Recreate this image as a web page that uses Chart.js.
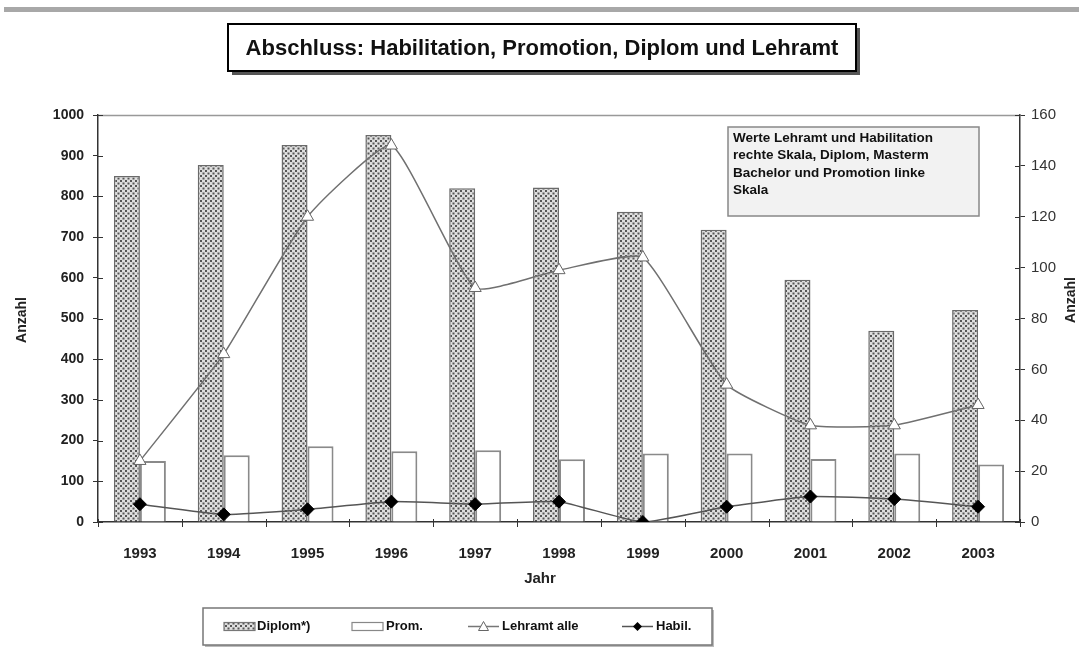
<!DOCTYPE html>
<html lang="de">
<head>
<meta charset="utf-8">
<title>Abschluss: Habilitation, Promotion, Diplom und Lehramt</title>
<script src="https://cdn.jsdelivr.net/npm/chart.js@4.4.1/dist/chart.umd.min.js"></script>
<style>
  html, body { margin: 0; padding: 0; background: #fff; }
  #wrap { width: 1079px; height: 662px; }
</style>
</head>
<body>
<div id="wrap"><canvas id="chart" width="1079" height="662"></canvas></div>
<script>
// Jahre und Abschlusszahlen
const years = ['1993', '1994', '1995', '1996', '1997', '1998', '1999', '2000', '2001', '2002', '2003'];
const diplom = [850, 877, 926, 951, 820, 822, 762, 718, 595, 470, 521];
const promotion = [150, 164, 186, 174, 176, 154, 168, 168, 155, 168, 141];
const lehramt = [24, 66, 120, 148, 92, 99, 104, 54, 38, 38, 46];
const habil = [7, 3, 5, 8, 7, 8, 0, 6, 10, 9, 6];

// Achsenbereiche (links: Diplom/Promotion, rechts: Lehramt/Habilitation)
const leftTicks = { min: 0, max: 1000, step: 100 };
const rightTicks = { min: 0, max: 160, step: 20 };

const FONT = "'Liberation Sans', Arial, sans-serif";

// Punktraster für die Diplom-Balken
function dotPattern() {
  const c = document.createElement('canvas');
  c.width = 5; c.height = 5;
  const g = c.getContext('2d');
  g.fillStyle = '#dedede';
  g.fillRect(0, 0, 5, 5);
  g.fillStyle = '#555';
  g.fillRect(0, 0, 2, 2);
  g.fillRect(2.5, 2.5, 2, 2);
  return g.createPattern(c, 'repeat');
}
const pattern = dotPattern();

// Rahmen, Titel, Hinweisbox, Legende und Achsentitel
const decorations = {
  id: 'decorations',
  afterDraw(chart) {
    const ctx = chart.ctx;
    const a = chart.chartArea;
    ctx.save();

    // graue Linie am oberen Rand
    ctx.fillStyle = '#a8a8a8';
    ctx.fillRect(4, 7, 1075, 5);

    // obere Begrenzung der Zeichenfläche
    ctx.strokeStyle = '#999';
    ctx.lineWidth = 1.5;
    ctx.beginPath();
    ctx.moveTo(a.left, a.top + 0.5);
    ctx.lineTo(a.right, a.top + 0.5);
    ctx.stroke();

    // Teilstriche innerhalb der Achsen und unter der x-Achse
    ctx.strokeStyle = '#333';
    ctx.lineWidth = 1;
    const ys = chart.scales.y, y1 = chart.scales.y1, xs = chart.scales.x;
    for (let v = leftTicks.min; v <= leftTicks.max; v += leftTicks.step) {
      const p = Math.round(ys.getPixelForValue(v)) + 0.5;
      ctx.beginPath(); ctx.moveTo(a.left, p); ctx.lineTo(a.left + 5, p); ctx.stroke();
    }
    for (let v = rightTicks.min; v <= rightTicks.max; v += rightTicks.step) {
      const p = Math.round(y1.getPixelForValue(v)) + 0.5;
      ctx.beginPath(); ctx.moveTo(a.right - 5, p); ctx.lineTo(a.right, p); ctx.stroke();
    }
    const half = (xs.getPixelForValue(1) - xs.getPixelForValue(0)) / 2;
    for (let i = 0; i <= years.length; i++) {
      const p = Math.round(xs.getPixelForValue(i) - half) + 0.5;
      ctx.beginPath(); ctx.moveTo(p, a.bottom - 3); ctx.lineTo(p, a.bottom + 5); ctx.stroke();
    }

    // Titelbox mit Schatten
    const tb = { x: 228, y: 24, w: 628, h: 47 };
    ctx.fillStyle = '#555';
    ctx.fillRect(tb.x + 4, tb.y + 4, tb.w, tb.h);
    ctx.fillStyle = '#fff';
    ctx.fillRect(tb.x, tb.y, tb.w, tb.h);
    ctx.strokeStyle = '#000';
    ctx.lineWidth = 2;
    ctx.strokeRect(tb.x, tb.y, tb.w, tb.h);
    ctx.fillStyle = '#111';
    ctx.font = 'bold 22px ' + FONT;
    ctx.textAlign = 'center';
    ctx.textBaseline = 'middle';
    ctx.fillText('Abschluss: Habilitation, Promotion, Diplom und Lehramt', tb.x + tb.w / 2, tb.y + tb.h / 2 + 1, tb.w - 14);

    // Hinweisbox zu den Skalen
    const nb = { x: 728, y: 127, w: 251, h: 89 };
    ctx.fillStyle = '#f2f2f2';
    ctx.fillRect(nb.x, nb.y, nb.w, nb.h);
    ctx.strokeStyle = '#888';
    ctx.lineWidth = 1.5;
    ctx.strokeRect(nb.x, nb.y, nb.w, nb.h);
    ctx.fillStyle = '#111';
    ctx.font = 'bold 13.5px ' + FONT;
    ctx.textAlign = 'left';
    ctx.textBaseline = 'middle';
    const note = ['Werte Lehramt und Habilitation', 'rechte Skala, Diplom, Masterm', 'Bachelor und Promotion linke', 'Skala'];
    note.forEach((t, i) => ctx.fillText(t, nb.x + 5, nb.y + 11 + i * 17.5, nb.w - 10));

    // Achsentitel
    ctx.font = 'bold 14px ' + FONT;
    ctx.fillStyle = '#222';
    ctx.textAlign = 'center';
    ctx.save();
    ctx.translate(22, 320);
    ctx.rotate(-Math.PI / 2);
    ctx.fillText('Anzahl', 0, 0);
    ctx.restore();
    ctx.save();
    ctx.translate(1071, 300);
    ctx.rotate(-Math.PI / 2);
    ctx.fillText('Anzahl', 0, 0);
    ctx.restore();
    ctx.font = 'bold 15px ' + FONT;
    ctx.fillText('Jahr', 540, 579);

    // Legende
    const lb = { x: 203, y: 608, w: 509, h: 37 };
    ctx.fillStyle = '#bbb';
    ctx.fillRect(lb.x + 2, lb.y + 2, lb.w, lb.h);
    ctx.fillStyle = '#fff';
    ctx.fillRect(lb.x, lb.y, lb.w, lb.h);
    ctx.strokeStyle = '#777';
    ctx.lineWidth = 1.5;
    ctx.strokeRect(lb.x, lb.y, lb.w, lb.h);
    const cy = lb.y + lb.h / 2;
    ctx.font = 'bold 13px ' + FONT;
    ctx.textAlign = 'left';
    ctx.textBaseline = 'middle';

    // Diplom
    ctx.fillStyle = pattern;
    ctx.fillRect(224, cy - 4, 31, 8);
    ctx.strokeStyle = '#777';
    ctx.lineWidth = 1.2;
    ctx.strokeRect(224, cy - 4, 31, 8);
    ctx.fillStyle = '#111';
    ctx.fillText('Diplom*)', 257, cy);
    // Promotion
    ctx.fillStyle = '#fff';
    ctx.fillRect(352, cy - 4, 31, 8);
    ctx.strokeStyle = '#888';
    ctx.strokeRect(352, cy - 4, 31, 8);
    ctx.fillStyle = '#111';
    ctx.fillText('Prom.', 386, cy);
    // Lehramt
    ctx.strokeStyle = '#777';
    ctx.lineWidth = 1.5;
    ctx.beginPath(); ctx.moveTo(468, cy); ctx.lineTo(499, cy); ctx.stroke();
    ctx.beginPath();
    ctx.moveTo(483.5, cy - 5); ctx.lineTo(488.5, cy + 4); ctx.lineTo(478.5, cy + 4); ctx.closePath();
    ctx.fillStyle = '#fff'; ctx.fill();
    ctx.strokeStyle = '#666'; ctx.lineWidth = 1; ctx.stroke();
    ctx.fillStyle = '#111';
    ctx.fillText('Lehramt alle', 502, cy);
    // Habilitation
    ctx.strokeStyle = '#555';
    ctx.lineWidth = 1.5;
    ctx.beginPath(); ctx.moveTo(622, cy); ctx.lineTo(653, cy); ctx.stroke();
    ctx.beginPath();
    ctx.moveTo(637.5, cy - 4.5); ctx.lineTo(642, cy); ctx.lineTo(637.5, cy + 4.5); ctx.lineTo(633, cy); ctx.closePath();
    ctx.fillStyle = '#000'; ctx.fill();
    ctx.fillStyle = '#111';
    ctx.fillText('Habil.', 656, cy);

    ctx.restore();
  }
};

new Chart(document.getElementById('chart'), {
  data: {
    labels: years,
    datasets: [
      {
        type: 'line', label: 'Lehramt alle', data: lehramt, yAxisID: 'y1', order: 0,
        borderColor: '#707070', borderWidth: 1.5, tension: 0.15,
        pointStyle: 'triangle', pointRadius: 7, pointBackgroundColor: '#fff',
        pointBorderColor: '#666', pointBorderWidth: 1
      },
      {
        type: 'line', label: 'Habil.', data: habil, yAxisID: 'y1', order: 0,
        borderColor: '#555', borderWidth: 1.5, tension: 0.15,
        pointStyle: 'rectRot', pointRadius: 6.5, pointBackgroundColor: '#000',
        pointBorderColor: '#000', pointBorderWidth: 1
      },
      {
        type: 'bar', label: 'Diplom*)', data: diplom, yAxisID: 'y', order: 2,
        backgroundColor: pattern, borderColor: '#6a6a6a', borderWidth: 1.5,
        categoryPercentage: 0.62, barPercentage: 1
      },
      {
        type: 'bar', label: 'Prom.', data: promotion, yAxisID: 'y', order: 2,
        backgroundColor: '#fff', borderColor: '#8a8a8a', borderWidth: 2,
        categoryPercentage: 0.62, barPercentage: 1
      }
    ]
  },
  options: {
    responsive: false,
    animation: false,
    layout: { padding: { top: 115, left: 0, right: 0, bottom: 0 } },
    plugins: { legend: { display: false }, tooltip: { enabled: false }, title: { display: false } },
    scales: {
      x: {
        offset: true,
        grid: { display: false, drawOnChartArea: false },
        border: { display: true, color: '#333', width: 1.5 },
        ticks: { color: '#222', font: { family: FONT, size: 15, weight: 'bold' }, padding: 15, maxRotation: 0 },
        afterFit(s) { s.height = 140; }
      },
      y: {
        position: 'left', min: leftTicks.min, max: leftTicks.max,
        grid: { drawOnChartArea: false, tickLength: 5, color: '#333' },
        border: { display: true, color: '#333', width: 1.5 },
        ticks: {
          stepSize: leftTicks.step, color: '#222', padding: 9,
          font: { family: FONT, size: 14, weight: 'bold' },
          callback: v => String(v)
        },
        afterFit(s) { s.width = 98; }
      },
      y1: {
        position: 'right', min: rightTicks.min, max: rightTicks.max,
        grid: { drawOnChartArea: false, tickLength: 5, color: '#333' },
        border: { display: true, color: '#333', width: 1.5 },
        ticks: {
          stepSize: rightTicks.step, color: '#333', padding: 6,
          font: { family: FONT, size: 15 },
          callback: v => String(v)
        },
        afterFit(s) { s.width = 59; }
      }
    }
  },
  plugins: [decorations]
});
</script>
</body>
</html>
